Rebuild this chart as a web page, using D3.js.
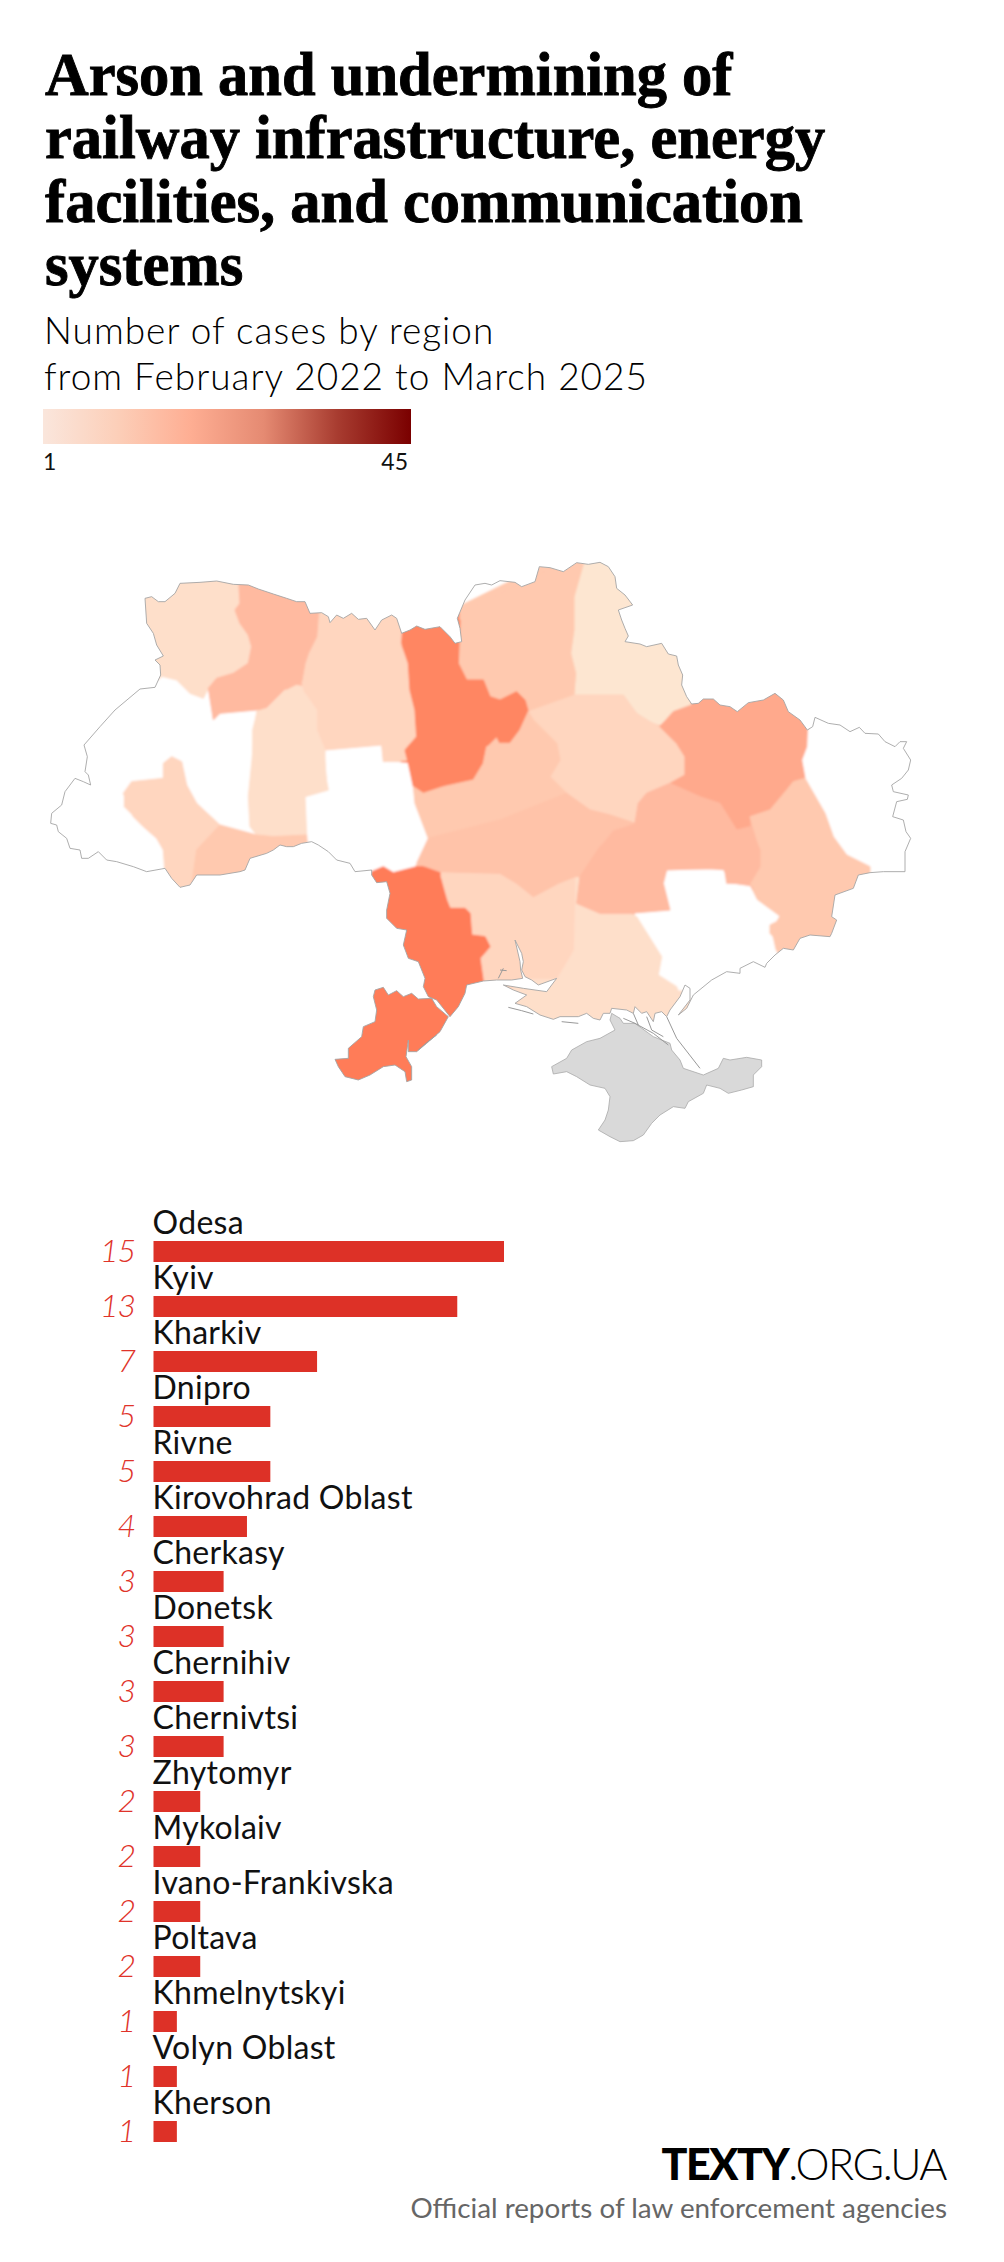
<!DOCTYPE html>
<html><head><meta charset="utf-8">
<script src="https://cdn.jsdelivr.net/npm/d3@7"></script>
<style>html,body{margin:0;padding:0;background:#fff}svg{display:block}</style></head>
<body><div id="chart"></div>
<script>
const titleLines=["Arson and undermining of","railway infrastructure, energy","facilities, and communication","systems"];
const subtitleLines=["Number of cases by region","from February 2022 to March 2025"];
const legendLabels=["1","45"];
const legendColors=["#fae6dc","#fccfb9","#feae93","#e58a72","#a83c30","#7a0000"];
const categories=["Odesa","Kyiv","Kharkiv","Dnipro","Rivne","Kirovohrad Oblast","Cherkasy","Donetsk","Chernihiv","Chernivtsi","Zhytomyr","Mykolaiv","Ivano-Frankivska","Poltava","Khmelnytskyi","Volyn Oblast","Kherson"];
const cases=[15,13,7,5,5,4,3,3,3,3,2,2,2,2,1,1,1];
const sumyTone=0.7;

// traced outlines: each crop of the reference has its own grid (3 units per map unit)
const z2=p=>p.map(([a,b])=>[a/3,530+b/3]), z3=p=>p.map(([a,b])=>[500+a/3,530+b/3]), z4=p=>p.map(([a,b])=>[280+a/3,850+b/3]), z6=p=>p.map(([a,b])=>[740+a/3,880+b/3]);

const mainland=[
...z2([[435,205],[455,200],[475,215],[495,215],[525,190],[540,160],[600,157],[650,153],[700,163],[745,165],[775,177],[820,192],[860,205],[890,215],[915,215],[930,250],[965,248],[985,260],[990,278],[1010,255],[1030,265],[1055,250],[1075,268],[1100,265],[1125,300],[1145,270],[1175,255],[1190,265],[1205,310],[1230,300],[1250,288],[1275,298],[1320,290],[1350,320],[1365,340],[1385,335],[1380,295],[1372,265],[1395,210],[1425,165],[1455,160],[1475,165]]),
...z3([[0,152],[45,157],[65,170],[105,155],[118,110],[150,113],[190,125],[230,98],[265,103],[300,97],[325,110],[345,140],[350,175],[375,195],[398,225],[355,240],[365,270],[375,295],[385,318],[375,335],[420,342],[440,350],[485,340],[505,372],[530,378],[535,405],[548,435],[545,465],[560,500],[575,522],[595,520],[610,507],[640,507],[660,525],[690,530],[712,545],[745,518],[790,510],[825,490],[850,510],[865,545],[900,570],[922,600],[938,590],[945,562],[985,580],[1020,585],[1050,605],[1078,592],[1095,610],[1135,612],[1155,635],[1185,650],[1200,635],[1220,635],[1210,655],[1232,690],[1225,720],[1205,745],[1175,765],[1180,785],[1225,795],[1222,808],[1190,815],[1178,860],[1210,870],[1218,905],[1232,925],[1215,965],[1215,1025],[1150,1025],[1110,1028],[1075,1035],[1060,1075],[1005,1095],[995,1160],[1010,1170]]),
...z6([[275,160],[270,170],[210,165],[180,175],[160,210],[130,205],[105,225],[80,250],[75,262],[40,245],[0,265]]),
...z4([[1380,370],[1340,365],[1295,390],[1240,435],[1220,475],[1195,495],[1230,450],[1230,415],[1215,405],[1200,440],[1170,480],[1160,500],[1145,485],[1125,490],[1120,515],[1100,485],[1085,490],[1065,470],[1060,490],[1040,480],[995,475],[990,490],[970,490],[960,510],[940,505],[920,490],[895,500],[840,500],[820,508],[780,495],[740,470],[705,460],[740,435],[700,420],[670,405],[730,415],[800,425],[830,385],[775,405],[755,390],[735,380],[725,360],[730,335],[725,310],[705,270],[720,335],[722,360],[728,385],[695,390],[650,390],[610,393],[560,405],[555,430],[535,470],[510,500],[470,450],[445,440],[430,410],[435,385],[415,335],[385,325],[370,285],[380,240],[350,235],[320,205],[320,180],[330,130],[320,95],[290,98],[275,75]]),
...z2([[1115,1020],[1065,1025],[1050,1000],[1010,990],[985,965],[955,945],[935,935],[905,940],[880,950],[860,950],[840,945],[820,960],[800,970],[750,985],[735,1020],[720,1025],[660,1035],[590,1035],[570,1065],[540,1072],[515,1045],[495,1015],[440,1025],[400,1010],[350,995],[320,990],[295,965],[265,985],[245,985],[240,960],[210,955],[200,925],[175,905],[170,885],[152,880],[155,850],[185,825],[195,785],[225,745],[250,755],[272,765],[265,735],[255,725],[262,680],[252,645],[300,590],[345,540],[420,477],[465,472],[482,435],[480,405],[465,390],[490,378],[470,345],[460,310],[440,280],[435,205]])];
const budjak=z4([[285,420],[310,412],[325,435],[350,422],[370,440],[395,430],[415,447],[455,445],[470,470],[505,500],[480,545],[440,580],[410,605],[385,605],[385,570],[378,620],[395,650],[395,690],[380,695],[375,665],[345,645],[310,650],[270,675],[235,690],[195,680],[175,650],[165,628],[205,625],[205,595],[245,560],[250,530],[285,515],[290,480],[280,440],[285,420]]);
const crimea=z4([[995,490],[1020,505],[1030,520],[1065,520],[1120,560],[1170,580],[1175,600],[1200,630],[1210,655],[1270,675],[1315,655],[1330,625],[1350,630],[1400,622],[1445,630],[1445,650],[1420,675],[1420,710],[1385,720],[1345,730],[1320,715],[1280,705],[1270,730],[1225,755],[1215,775],[1180,770],[1140,795],[1115,820],[1090,855],[1060,872],[1020,875],[990,860],[955,840],[975,810],[985,780],[990,740],[975,715],[930,705],[890,680],[860,665],[820,672],[815,650],[860,625],[875,600],[920,575],[960,565],[1005,540],[990,510],[995,490]]);
const detailLines=[
 z4([[1160,500],[1190,565],[1260,655]]),
 z4([[1030,505],[1065,520],[1120,550],[1165,585]]),
 z4([[1100,500],[1115,540],[1150,560]]),
 z4([[1060,490],[1075,525]]),
 z4([[685,472],[725,482],[760,492]]),
 z4([[845,515],[895,520]]),
 z4([[670,355],[655,385]]),
 z4([[660,360],[680,362]]),
 z4([[415,600],[440,578],[470,555]])
];

const regionShapes={
Kherson:z4([[885,80],[900,80],[890,160],[960,190],[1050,190],[1070,200],[1120,280],[1145,320],[1135,375],[1190,410],[1200,440],[1230,490],[1170,540],[1000,580],[620,560],[620,420]]),
Mykolaiv:z4([[480,65],[660,70],[710,100],[760,140],[835,100],[885,80],[880,300],[830,385],[740,385],[730,400],[610,395],[600,325],[630,290],[615,260],[575,255],[570,190],[555,175],[510,175],[500,150],[480,80]]),
Odesa:z4([[275,65],[310,50],[340,68],[410,50],[450,50],[480,65],[480,80],[500,150],[510,175],[555,175],[570,190],[575,255],[615,260],[630,290],[600,325],[610,395],[560,420],[520,520],[410,620],[400,710],[150,710],[150,600],[270,400],[250,200],[260,70]]),
"Volyn Oblast":z2([[400,180],[530,130],[715,130],[715,165],[720,220],[705,240],[720,280],[745,315],[755,350],[745,400],[700,430],[650,445],[625,475],[610,505],[570,490],[530,450],[490,440],[440,440]]),
Rivne:z2([[715,130],[955,200],[955,255],[950,320],[925,370],[915,400],[905,455],[855,480],[800,535],[770,540],[660,550],[640,570],[625,475],[650,445],[700,430],[745,400],[755,350],[745,315],[720,280],[705,240],[720,220],[715,165]]),
Zhytomyr:z2([[955,200],[1205,230],[1205,350],[1225,400],[1230,480],[1245,540],[1250,620],[1215,660],[1225,690],[1150,695],[1145,645],[975,660],[950,600],[950,540],[915,490],[905,455],[915,400],[925,370],[950,320]]),
Khmelnytskyi:z2([[770,545],[800,535],[855,480],[915,490],[950,540],[950,600],[975,660],[975,730],[985,780],[915,800],[920,915],[820,920],[770,915],[750,890],[745,800],[755,700],[755,600]]),
"Ivano-Frankivska":z2([[370,790],[395,755],[490,745],[490,700],[515,680],[545,695],[560,765],[590,820],[660,885],[620,925],[590,960],[570,1100],[500,1100],[490,960],[470,925],[430,890],[400,860],[370,830]]),
Chernivtsi:z2([[660,885],[770,915],[820,920],[920,915],[925,980],[760,1060],[570,1100],[590,960],[620,925]]),
Kyiv:z2([[1205,340],[1210,270],[1380,270],[1375,400],[1400,450],[1450,450],[1470,500],[1500,510],[1550,485],[1575,510],[1585,545],[1560,600],[1530,640],[1500,640],[1490,620],[1460,650],[1450,700],[1420,750],[1330,770],[1270,790],[1240,770],[1225,700],[1215,660],[1250,620],[1245,540],[1230,480],[1225,400],[1205,350]]),
Chernihiv:z3([[265,60],[265,125],[225,200],[225,300],[215,370],[230,430],[225,495],[150,530],[85,545],[75,510],[50,485],[0,510],[-30,500],[-50,450],[-100,450],[-125,400],[-120,250],[-100,60]]),
Sumy:z3([[265,60],[620,60],[620,500],[575,525],[520,545],[480,585],[440,575],[410,550],[370,495],[225,495],[230,430],[215,370],[225,300],[225,200],[265,125]]),
Kharkiv:z3([[480,590],[520,545],[575,525],[575,440],[930,440],[930,540],[922,600],[920,650],[905,690],[915,745],[880,755],[860,780],[810,840],[750,860],[750,890],[710,900],[660,820],[600,800],[510,760],[555,735],[555,680],[530,640],[510,620]]),
Poltava:z3([[225,495],[370,495],[410,550],[450,575],[480,590],[510,620],[530,640],[555,680],[555,735],[510,760],[440,790],[415,820],[405,880],[330,855],[270,840],[200,790],[150,740],[180,690],[170,640],[130,600],[100,570],[85,545],[150,530]]),
Cherkasy:z3([[0,640],[30,640],[60,600],[85,545],[100,570],[130,600],[170,640],[180,690],[150,740],[200,790],[100,835],[0,870],[-215,925],[-255,820],[-260,770],[-230,790],[-170,770],[-80,750],[-50,700],[-40,650],[-10,620]]),
"Kirovohrad Oblast":z3([[200,790],[270,840],[330,855],[405,880],[340,900],[300,950],[240,1040],[225,1040],[175,1060],[100,1100],[50,1060],[0,1030],[-180,1025],[-250,1000],[-215,925],[0,870],[100,835]]),
Dnipro:z3([[405,880],[415,820],[440,790],[510,760],[600,800],[660,820],[710,900],[750,890],[780,960],[780,1010],[750,1060],[680,1060],[675,1020],[630,1015],[500,1020],[490,1060],[510,1140],[390,1150],[300,1150],[230,1120],[240,1040],[300,950],[340,900]]),
Donetsk:z3([[750,860],[810,840],[860,780],[880,755],[915,745],[935,780],[975,850],[1000,920],[1040,975],[1110,1010],[1110,1040],[1100,1100],[1050,1240],[860,1290],[850,1255],[830,1230],[810,1210],[810,1185],[830,1175],[845,1150],[790,1120],[750,1060],[780,1010],[780,960],[750,890]])
};
const regionOrder=["Kherson","Mykolaiv","Odesa","Volyn Oblast","Zhytomyr","Rivne","Khmelnytskyi","Ivano-Frankivska","Chernivtsi","Chernihiv","Sumy","Kyiv","Poltava","Kharkiv","Cherkasy","Kirovohrad Oblast","Donetsk","Dnipro"];
// regions with no recorded cases stay white
const emptyShapes=[
 z2([[975,660],[1145,645],[1150,695],[1225,700],[1250,790],[1245,820],[1285,930],[1250,1000],[1230,1030],[1120,1060],[900,970],[915,800],[985,780],[975,730]]),
 z4([[1160,60],[1330,60],[1340,100],[1410,110],[1430,150],[1505,205],[1470,230],[1490,320],[1300,420],[1190,420],[1135,375],[1145,320],[1120,280],[1060,200],[1140,170]]),
 z3([[922,600],[945,550],[1240,600],[1240,1040],[1110,1040],[1110,1010],[1040,975],[1000,920],[975,850],[935,780],[915,745],[905,690],[920,650]]),
 z2([[490,440],[530,450],[570,490],[610,505],[625,475],[640,570],[660,550],[770,540],[755,600],[755,700],[745,800],[750,890],[770,915],[660,885],[590,820],[560,765],[545,695],[515,680],[490,700],[490,745],[395,755],[370,790],[370,830],[400,860],[430,890],[470,925],[490,960],[500,1040],[300,1040],[130,900],[240,620],[420,460]])
];

const width=1004,height=2262;
const svg=d3.select("#chart").append("svg").attr("width",width).attr("height",height).attr("viewBox",[0,0,width,height]);
const sans="Lato, 'Open Sans', sans-serif";

svg.append("g").selectAll("text").data(titleLines).join("text")
 .attr("x",45).attr("y",(d,i)=>94.5+i*63.5).text(d=>d)
 .attr("font-family","'Liberation Serif',serif").attr("font-weight",700).attr("font-size",60.5).attr("fill","#000").attr("stroke","#000").attr("stroke-width",0.9);
svg.append("g").selectAll("text").data(subtitleLines).join("text")
 .attr("x",44).attr("y",(d,i)=>344+i*46).text(d=>d)
 .attr("font-family",sans).attr("font-weight",300).attr("font-size",37).attr("letter-spacing",1).attr("fill","#000");

const defs=svg.append("defs");
const grad=defs.append("linearGradient").attr("id","legendGrad");
grad.selectAll("stop").data(legendColors).join("stop").attr("offset",(d,i)=>i/(legendColors.length-1)).attr("stop-color",d=>d);
const legendX=d3.scaleLinear().domain([1,45]).range([43,411]);
svg.append("rect").attr("x",legendX(1)).attr("y",409).attr("width",legendX(45)-legendX(1)).attr("height",35).attr("fill","url(#legendGrad)");
svg.append("g").selectAll("text").data(legendLabels).join("text")
 .attr("x",d=>legendX(+d)+(d==="45"?-3:0)).attr("y",470).attr("text-anchor",d=>d==="45"?"end":"start").text(d=>d)
 .attr("font-family",sans).attr("font-weight",400).attr("font-size",23).attr("fill","#111");

// map
const toneOf=new Map(categories.map((c,i)=>[c,cases[i]]));
toneOf.set("Sumy",sumyTone);
const color=d3.scaleLinear().domain([0.7,1,2,3,4,5,7,13,15])
 .range(["#fde6d1","#fedfca","#ffd6bf","#ffc9af","#ffc3a9","#ffbaa0","#ffa98c","#ff8662","#ff7b58"]);
const path=d3.geoPath(d3.geoIdentity());
const poly=p=>({type:"Polygon",coordinates:[p]});
const land={type:"MultiPolygon",coordinates:[[mainland],[budjak]]};
defs.append("clipPath").attr("id","land").append("path").attr("d",path(land));
defs.append("filter").attr("id","soft").attr("x","-5%").attr("y","-5%").attr("width","110%").attr("height","110%")
 .append("feGaussianBlur").attr("stdDeviation",0.9);
const map=svg.append("g");
map.append("path").attr("d",path(land)).attr("fill","#fff");
const fills=map.append("g").attr("clip-path","url(#land)").append("g").attr("filter","url(#soft)");
// underlay closes the slivers between neighbouring traced regions
fills.append("g").selectAll("path").data(regionOrder).join("path")
 .attr("d",d=>path(poly(regionShapes[d]))).attr("fill",d=>color(toneOf.get(d))).attr("stroke",d=>color(toneOf.get(d))).attr("stroke-width",14).attr("stroke-linejoin","round");
fills.append("g").selectAll("path").data(emptyShapes).join("path").attr("d",d=>path(poly(d))).attr("fill","#fff").attr("stroke","#fff").attr("stroke-width",1);
fills.append("g").selectAll("path").data(regionOrder).join("path")
 .attr("d",d=>path(poly(regionShapes[d]))).attr("fill",d=>color(toneOf.get(d))).attr("stroke",d=>color(toneOf.get(d))).attr("stroke-width",1).attr("stroke-linejoin","round");
map.append("path").attr("d",path(poly(crimea))).attr("fill","#d9d9d9").attr("stroke","#aaa").attr("stroke-width",0.8);
map.append("path").attr("d",path({type:"MultiLineString",coordinates:detailLines})).attr("fill","none").attr("stroke","#999").attr("stroke-width",1);
map.append("path").attr("d",path(land)).attr("fill","none").attr("stroke","#a5a5a5").attr("stroke-width",0.9);

// bars
const x=d3.scaleLinear().domain([0,15]).range([153.5,504]);
const y=d3.scaleBand().domain(categories).range([1205,1205+55*categories.length]).paddingInner(0);
const rows=svg.append("g").selectAll("g").data(categories).join("g").attr("transform",d=>`translate(0,${y(d)})`);
rows.append("rect").attr("x",x(0)).attr("y",36).attr("height",21).attr("width",(d,i)=>x(cases[i])-x(0)).attr("fill","#dd3127");
rows.append("text").attr("x",x(0)-1).attr("y",29).text(d=>d).attr("font-family",sans).attr("font-size",32).attr("letter-spacing",0.3).attr("fill","#111");
rows.append("text").attr("x",135).attr("y",57).attr("text-anchor","end").text((d,i)=>cases[i])
 .attr("font-family",sans).attr("font-weight",300).attr("font-style","italic").attr("font-size",32).attr("letter-spacing",-1).attr("fill","#e0332a");

// footer
const logo=svg.append("text").attr("x",946).attr("y",2180).attr("text-anchor","end").attr("font-family",sans).attr("font-size",43).attr("fill","#000").attr("letter-spacing",-1.5);
logo.append("tspan").attr("font-weight",900).text("TEXTY");
logo.append("tspan").attr("font-weight",300).text(".ORG.UA");
svg.append("text").attr("x",947).attr("y",2218).attr("text-anchor","end").text("Official reports of law enforcement agencies")
 .attr("font-family",sans).attr("font-size",27.8).attr("font-weight",400).attr("fill","#666");
</script></body></html>
